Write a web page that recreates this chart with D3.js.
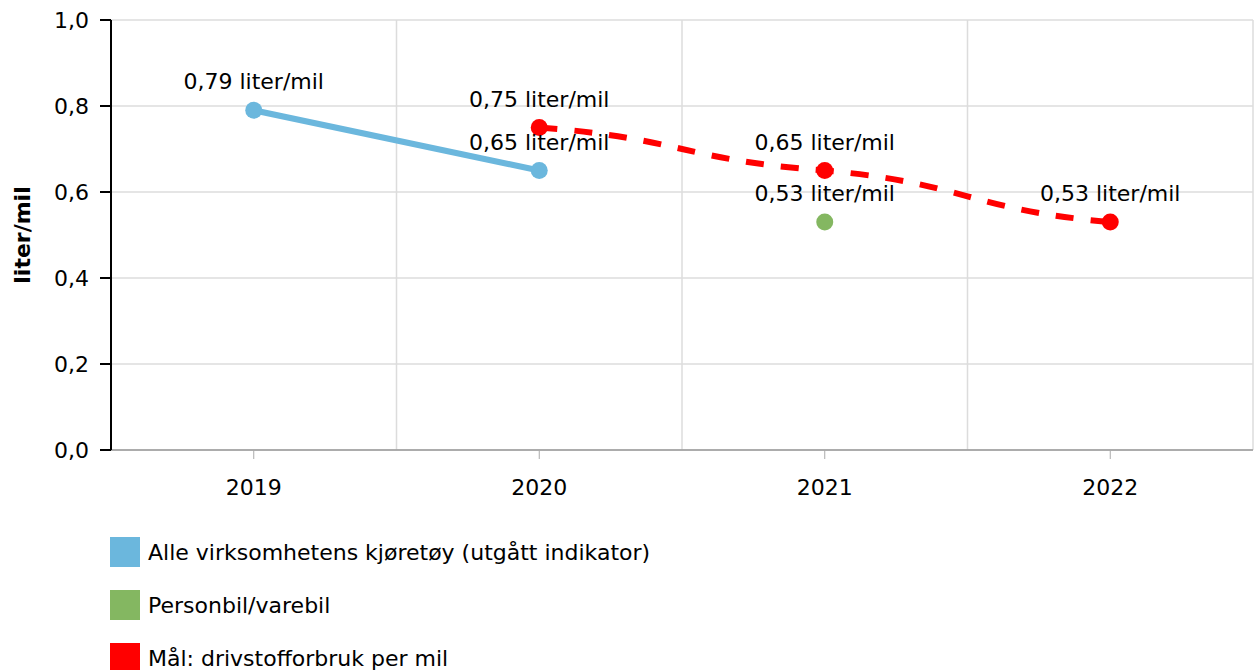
<!DOCTYPE html>
<html>
<head>
<meta charset="utf-8">
<script src="https://cdn.jsdelivr.net/npm/d3@7"></script>
<style>
  body { margin: 0; background: #fff; }
  svg { font-family: "DejaVu Sans", Verdana, sans-serif; }
</style>
</head>
<body>
<svg id="chart" width="1255" height="670"></svg>
<script>
var years = ['2019', '2020', '2021', '2022']
var yTicks = [0, 0.2, 0.4, 0.6, 0.8, 1.0]

var alleYears = ['2019', '2020']
var alleValues = [0.79, 0.65]

var personYears = ['2021']
var personValues = [0.53]

var malYears = ['2020', '2021', '2022']
var malValues = [0.75, 0.65, 0.53]

var seriesNames = ['Alle virksomhetens kjøretøy (utgått indikator)', 'Personbil/varebil', 'Mål: drivstofforbruk per mil']
var seriesColors = ['#6bb7dd', '#84b761', '#ff0000']

var margin = { top: 20, right: 2, bottom: 220, left: 111 }
var width = 1255 - margin.left - margin.right
var height = 670 - margin.top - margin.bottom
var fs = 22

var svg = d3.select('#chart')
var g = svg.append('g')
    .attr('transform', 'translate(' + margin.left + ',' + margin.top + ')')

var x = d3.scaleBand().domain(years).range([0, width])
var y = d3.scaleLinear().domain([0, 1]).range([height, 0])
var cx = d => x(d) + x.bandwidth() / 2
var fmt = v => d3.format('.1f')(v).replace('.', ',')
var lbl = v => d3.format('.2f')(v).replace('.', ',') + ' liter/mil'

// soft S-shaped spline between consecutive points
function spline (pts) {
  var k = 0.25
  var d = 'M' + pts[0]
  for (var i = 1; i < pts.length; i++) {
    var a = pts[i - 1]
    var b = pts[i]
    var hw = (b[0] - a[0]) / 2
    var dy = b[1] - a[1]
    d += 'C' + [a[0] + hw, a[1] + k * dy] + ' ' + [b[0] - hw, b[1] - k * dy] + ' ' + b
  }
  return d
}

// grid
g.selectAll('.hgrid').data(yTicks).enter().append('line')
    .attr('x1', 0).attr('x2', width)
    .attr('y1', d => y(d)).attr('y2', d => y(d))
    .attr('stroke', '#dcdcdc').attr('stroke-width', 1.5)

var bounds = years.map(d => x(d)).concat([width])
g.selectAll('.vgrid').data(bounds.slice(1)).enter().append('line')
    .attr('x1', d => d).attr('x2', d => d)
    .attr('y1', 0).attr('y2', height)
    .attr('stroke', '#dcdcdc').attr('stroke-width', 1.5)

// x axis
g.append('line')
    .attr('x1', 0).attr('x2', width)
    .attr('y1', height).attr('y2', height)
    .attr('stroke', '#999').attr('stroke-width', 1.5)
g.selectAll('.xtick').data(years).enter().append('line')
    .attr('x1', d => cx(d)).attr('x2', d => cx(d))
    .attr('y1', height).attr('y2', height + 9)
    .attr('stroke', '#aaa').attr('stroke-width', 1)
g.selectAll('.xlab').data(years).enter().append('text')
    .attr('x', d => cx(d)).attr('y', height + 45)
    .attr('text-anchor', 'middle')
    .attr('font-size', fs)
    .text(d => d)

// y axis
g.append('line')
    .attr('x1', 0).attr('x2', 0)
    .attr('y1', 0).attr('y2', height)
    .attr('stroke', '#000').attr('stroke-width', 2)
g.selectAll('.ytick').data(yTicks).enter().append('line')
    .attr('x1', -11).attr('x2', 0)
    .attr('y1', d => y(d)).attr('y2', d => y(d))
    .attr('stroke', '#000').attr('stroke-width', 2)
g.selectAll('.ylab').data(yTicks).enter().append('text')
    .attr('x', -22).attr('y', d => y(d) + 8)
    .attr('text-anchor', 'end')
    .attr('font-size', fs)
    .text(d => fmt(d))

svg.append('text')
    .attr('transform', 'translate(30,' + (margin.top + height / 2) + ') rotate(-90)')
    .attr('text-anchor', 'middle')
    .attr('font-size', fs)
    .attr('font-weight', 'bold')
    .text('liter/mil')

// series
var alle = alleYears.map((d, i) => ({ k: d, v: alleValues[i] }))
var person = personYears.map((d, i) => ({ k: d, v: personValues[i] }))
var mal = malYears.map((d, i) => ({ k: d, v: malValues[i] }))

g.append('path').datum(alle)
    .attr('fill', 'none')
    .attr('stroke', seriesColors[0]).attr('stroke-width', 6)
    .attr('d', d3.line().x(d => cx(d.k)).y(d => y(d.v)))

g.append('path').datum(mal)
    .attr('fill', 'none')
    .attr('stroke', seriesColors[2]).attr('stroke-width', 6)
    .attr('stroke-dasharray', '18,17')
    .attr('d', d => spline(d.map(p => [cx(p.k), y(p.v)])))

var allSeries = [alle, person, mal]
allSeries.forEach(function (s, i) {
  g.selectAll('.dot' + i).data(s).enter().append('circle')
      .attr('cx', d => cx(d.k)).attr('cy', d => y(d.v))
      .attr('r', 8.5)
      .attr('fill', seriesColors[i])
})
allSeries.forEach(function (s, i) {
  g.selectAll('.lab' + i).data(s).enter().append('text')
      .attr('x', d => cx(d.k)).attr('y', d => y(d.v) - 21)
      .attr('text-anchor', 'middle')
      .attr('font-size', fs)
      .text(d => lbl(d.v))
})

// legend
var legend = svg.selectAll('.legend').data(seriesNames).enter().append('g')
    .attr('transform', (d, i) => 'translate(110,' + (537 + i * 53) + ')')
legend.append('rect')
    .attr('width', 30).attr('height', 30)
    .attr('fill', (d, i) => seriesColors[i])
legend.append('text')
    .attr('x', 38).attr('y', 23)
    .attr('font-size', fs)
    .text(d => d)
</script>
</body>
</html>
